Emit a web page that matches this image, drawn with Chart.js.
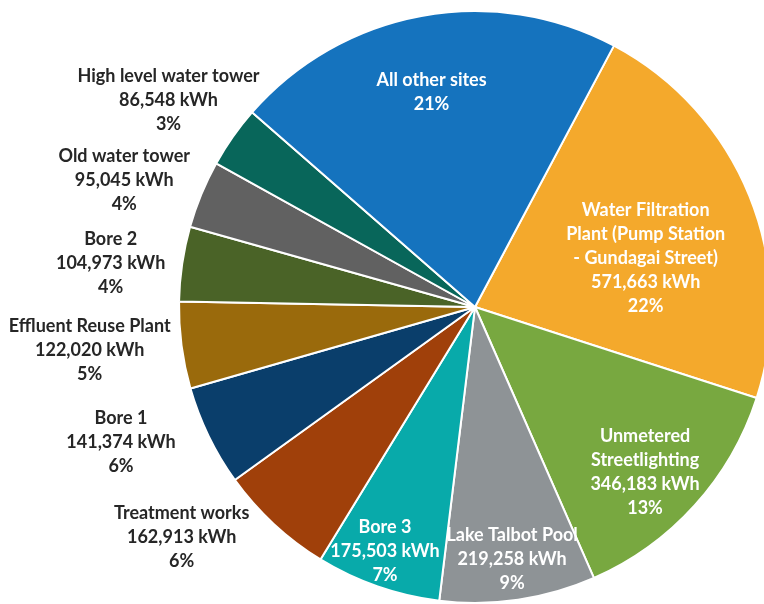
<!DOCTYPE html>
<html><head><meta charset="utf-8">
<script src="https://cdn.jsdelivr.net/npm/chart.js@4/dist/chart.umd.min.js"></script>
<style>
html,body{margin:0;padding:0;background:#fff;overflow:hidden;}
#wrap{width:780px;height:604px;position:relative;}
</style></head>
<body><div id="wrap"><canvas id="c"></canvas></div>
<script>
const categories = ["Water Filtration Plant (Pump Station - Gundagai Street)","Unmetered Streetlighting","Lake Talbot Pool","Bore 3","Treatment works","Bore 1","Effluent Reuse Plant","Bore 2","Old water tower","High level water tower","All other sites"];
const energyKWh = [571663,346183,219258,175503,162913,141374,122020,104973,95045,86548,550000];
const percentLabels = ["22%","13%","9%","7%","6%","6%","5%","4%","4%","3%","21%"];
const labelLines = [
  ["Water Filtration","Plant (Pump Station","- Gundagai Street)","571,663 kWh","22%"],
  ["Unmetered","Streetlighting","346,183 kWh","13%"],
  ["Lake Talbot Pool","219,258 kWh","9%"],
  ["Bore 3","175,503 kWh","7%"],
  ["Treatment works","162,913 kWh","6%"],
  ["Bore 1","141,374 kWh","6%"],
  ["Effluent Reuse Plant","122,020 kWh","5%"],
  ["Bore 2","104,973 kWh","4%"],
  ["Old water tower","95,045 kWh","4%"],
  ["High level water tower","86,548 kWh","3%"],
  ["All other sites","21%"]
];
const colors = ["#F4A92C","#78A840","#8E9396","#08AAAA","#A0400A","#0A3E6B","#9A6A0C","#4A6327","#616161","#08665A","#1573BE"];
// label placement: [radius factor, angle shift (deg), inside?]
const labelPlace = [[0.60,6,1],[0.80,2,1],[0.86,0,1],[0.88,1,1],[1.26,9,0],[1.28,5,0],[1.31,1,0],[1.24,-1.5,0],[1.26,-2.5,0],[1.25,-1,0],[0.74,-1,1]];

const labelPlugin = {
  id:'sliceLabels',
  afterDatasetsDraw(chart){
    const ctx = chart.ctx;
    const meta = chart.getDatasetMeta(0);
    meta.data.forEach((arc,i)=>{
      const p = arc.getProps(['x','y','startAngle','endAngle','outerRadius'],true);
      const [rf,shift,inside] = labelPlace[i];
      const mid = (p.startAngle+p.endAngle)/2 + shift*Math.PI/180;
      const r = p.outerRadius*rf;
      const cx = p.x + Math.cos(mid)*r;
      const cy = p.y + Math.sin(mid)*r;
      const lines = labelLines[i];
      const lh = 24;
      ctx.save();
      ctx.textAlign='center';ctx.textBaseline='middle';
      ctx.font = 'bold 18px Lato, "Open Sans", sans-serif';
      ctx.fillStyle = inside ? '#ffffff' : '#262626';
      lines.forEach((t,k)=>{
        ctx.fillText(t, cx, cy + (k-(lines.length-1)/2)*lh);
      });
      ctx.restore();
    });
  }
};

new Chart(document.getElementById('c'),{
  type:'pie',
  data:{labels:categories,datasets:[{data:energyKWh,backgroundColor:colors,borderColor:'#ffffff',borderWidth:2}]},
  options:{
    responsive:true,maintainAspectRatio:false,animation:false,
    rotation:28,
    layout:{padding:{left:178,right:8,top:10,bottom:0}},
    plugins:{legend:{display:false},tooltip:{enabled:false},title:{display:false}},
    events:[]
  },
  plugins:[labelPlugin]
});
</script></body></html>
